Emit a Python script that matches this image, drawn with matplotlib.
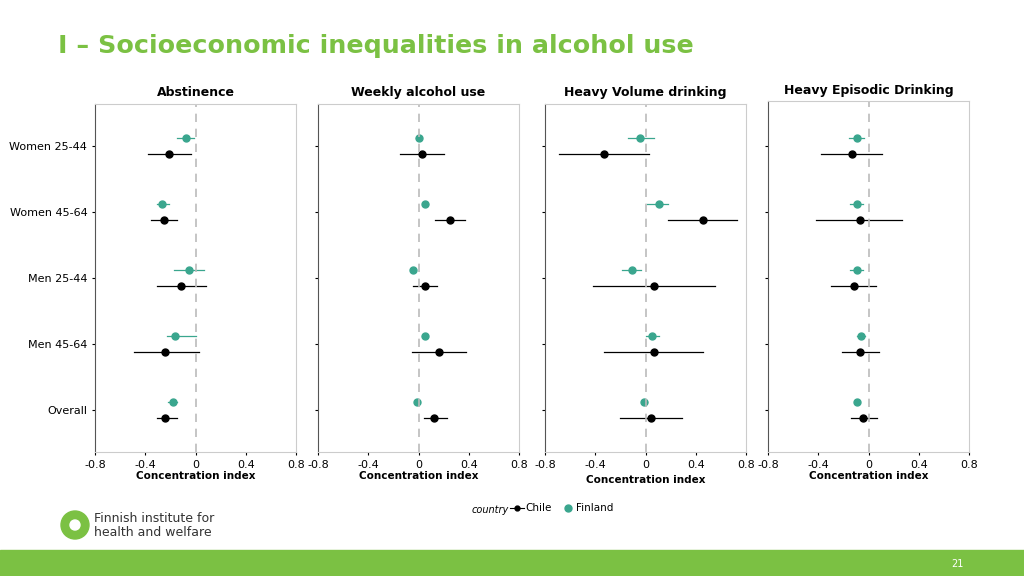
import matplotlib.pyplot as plt
import matplotlib.patches as mpatches

groups = ['Women 25-44', 'Women 45-64', 'Men 25-44', 'Men 45-64', 'Overall']
panels = ['Abstinence', 'Weekly alcohol use', 'Heavy Volume drinking', 'Heavy Episodic Drinking']

# (estimate, low, high) per group, per panel
chile = [
    [(-0.21, -0.38, -0.035), (-0.25, -0.355, -0.145), (-0.115, -0.31, 0.085), (-0.24, -0.49, 0.025), (-0.24, -0.31, -0.15)],
    [(0.03, -0.145, 0.205), (0.25, 0.135, 0.37), (0.05, -0.04, 0.145), (0.16, -0.05, 0.38), (0.125, 0.04, 0.225)],
    [(-0.33, -0.69, 0.025), (0.46, 0.18, 0.73), (0.065, -0.42, 0.555), (0.065, -0.33, 0.46), (0.04, -0.2, 0.29)],
    [(-0.135, -0.38, 0.11), (-0.07, -0.42, 0.27), (-0.115, -0.3, 0.06), (-0.07, -0.21, 0.085), (-0.04, -0.14, 0.07)],
]
finland = [
    [(-0.075, -0.15, -0.01), (-0.27, -0.31, -0.21), (-0.055, -0.17, 0.065), (-0.16, -0.225, 0.0), (-0.18, -0.22, -0.15)],
    [(0.0, -0.02, 0.02), (0.055, 0.035, 0.075), (-0.04, -0.055, -0.025), (0.05, 0.03, 0.07), (-0.01, -0.025, 0.005)],
    [(-0.04, -0.14, 0.07), (0.105, 0.015, 0.18), (-0.105, -0.185, -0.035), (0.055, 0.0, 0.11), (-0.01, -0.03, 0.01)],
    [(-0.095, -0.155, -0.035), (-0.095, -0.15, -0.04), (-0.095, -0.15, -0.04), (-0.06, -0.09, -0.03), (-0.095, -0.11, -0.08)],
]
xticks = [-0.8, -0.4, 0, 0.4, 0.8]
xticklabels = ['-0.8', '-0.4', '0', '0.4', '0.8']

GREEN = '#7bc143'
TEAL = '#3aa68e'

fig = plt.figure(figsize=(10.24, 5.76), dpi=100)
fig.patch.set_facecolor('white')

fig.text(0.057, 0.92, 'I – Socioeconomic inequalities in alcohol use', color=GREEN,
         fontsize=18.3, fontweight='bold', va='center')

lefts = [95, 318, 545, 768]
tops = [104, 104, 104, 101]
off = 0.12
for i, name in enumerate(panels):
    ax = fig.add_axes([lefts[i] / 1024, 1 - 452 / 576, 201 / 1024, (452 - tops[i]) / 576])
    n = len(groups)
    for j in range(n):
        yc = n - 1 - j
        e, lo, hi = finland[i][j]
        ax.plot([lo, hi], [yc + off, yc + off], color=TEAL, lw=0.9)
        ax.plot(e, yc + off, 'o', color=TEAL, ms=5)
        e, lo, hi = chile[i][j]
        ax.plot([lo, hi], [yc - off, yc - off], color='black', lw=0.9)
        ax.plot(e, yc - off, 'o', color='black', ms=5)
    ax.axvline(0, color='#bbbbbb', ls=(0, (5, 4)), lw=1.2)
    ax.set_xlim(-0.8, 0.8)
    ax.set_ylim(-0.636, n - 1 + 0.636 + (tops[0] - tops[i]) / 66)
    ax.set_xticks(xticks)
    ax.set_xticklabels(xticklabels, fontsize=8)
    ax.set_yticks(range(n))
    if i == 0:
        ax.set_yticklabels(groups[::-1], fontsize=8)
    else:
        ax.set_yticklabels([])
    ax.tick_params(length=2)
    for s in ['top', 'right', 'bottom']:
        ax.spines[s].set_color('#cccccc')
    ax.spines['left'].set_color('#555555')
    ax.set_title(name, fontsize=9, fontweight='bold', pad=6 if i != 3 else 5)
    ax.set_xlabel('Concentration index', fontsize=7.5, fontweight='bold', labelpad=1 if i != 2 else 4)

# legend drawn by hand
lax = fig.add_axes([0, 0, 1, 1], facecolor='none')
lax.set_xlim(0, 1024)
lax.set_ylim(576, 0)
lax.axis('off')
lax.text(472, 510, 'country', fontsize=7, style='italic', va='center')
lax.plot([510, 524], [508, 508], color='black', lw=0.8)
lax.plot(517, 508, 'o', color='black', ms=3.5)
lax.text(525, 508, 'Chile', fontsize=7.5, va='center')
lax.plot(568, 508, 'o', color=TEAL, ms=5)
lax.text(576, 508, 'Finland', fontsize=7.5, va='center')

# footer and logo
lax.add_patch(mpatches.Rectangle((0, 550), 1024, 26, color=GREEN))
lax.text(957, 564, '21', color='white', fontsize=7, ha='center', va='center')
lax.add_patch(mpatches.Circle((75, 525), 14, color=GREEN))
lax.add_patch(mpatches.Circle((75, 525), 5, color='white'))
lax.text(94, 518, 'Finnish institute for', fontsize=9, color='#333333', va='center')
lax.text(94, 533, 'health and welfare', fontsize=9, color='#333333', va='center')

plt.savefig('out.png', dpi=100)
